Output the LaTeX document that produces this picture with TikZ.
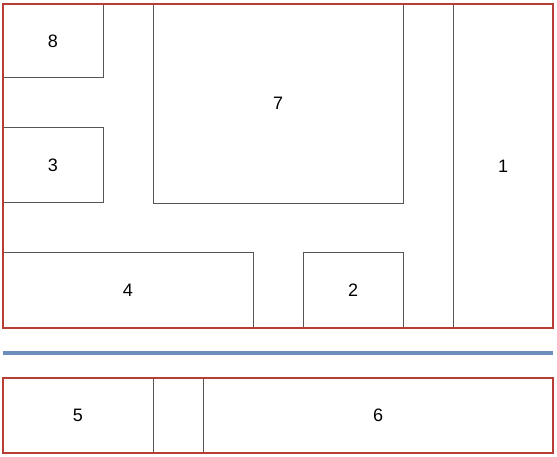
\documentclass[tikz,border=0pt]{standalone}
\usepackage{fontspec}
\setmainfont{Liberation Sans}
\usepackage{tikz}
\usetikzlibrary{positioning, fit}
\definecolor{wallred}{RGB}{182,62,52}
\definecolor{linkblue}{RGB}{108,142,191}
\definecolor{roomgray}{RGB}{85,85,85}

\tikzset{
    room/.style={rectangle, draw=roomgray, line width=1bp, inner sep=0pt, outer sep=0pt,
        anchor=north west, font=\fontsize{18bp}{21bp}\selectfont},
    wall/.style={rectangle, draw=wallred, line width=2.2bp, inner sep=0pt, outer sep=0pt},
}

\begin{document}
\begin{tikzpicture}[x=1bp, y=-1bp]

\useasboundingbox (0,0) rectangle (557,457);

    % upper floor
\node[room, minimum width=100bp, minimum height=74bp] (r8) at (3,4) {8};
\node[room, minimum width=100bp, minimum height=75bp] (r3) at (3,128) {3};
\node[room, minimum width=250bp, minimum height=199bp] (r7) at (153,4) {7};
\node[room, minimum width=100bp, minimum height=324bp] (r1) at (453,4) {1};
\node[room, minimum width=250bp, minimum height=75bp] (r4) at (3,253) {4};
\node[room, minimum width=100bp, minimum height=75bp] (r2) at (303,253) {2};

\node[wall, fit=(r8) (r1) (r4)] (upper) {};

    % -------

\draw[linkblue, line width=4bp] ([yshift=-25bp]upper.south west) -- ([yshift=-25bp]upper.south east);

    % lower floor
\node[room, minimum width=150bp, minimum height=75bp] (r5) at (3,378) {5};
\node[room, minimum width=50bp, minimum height=75bp, anchor=north west] (hall) at (r5.north east) {};
\node[room, minimum width=350bp, minimum height=75bp, anchor=north west] (r6) at (hall.north east) {6};

\node[wall, fit=(r5) (r6)] (lower) {};

\end{tikzpicture}
\end{document}
